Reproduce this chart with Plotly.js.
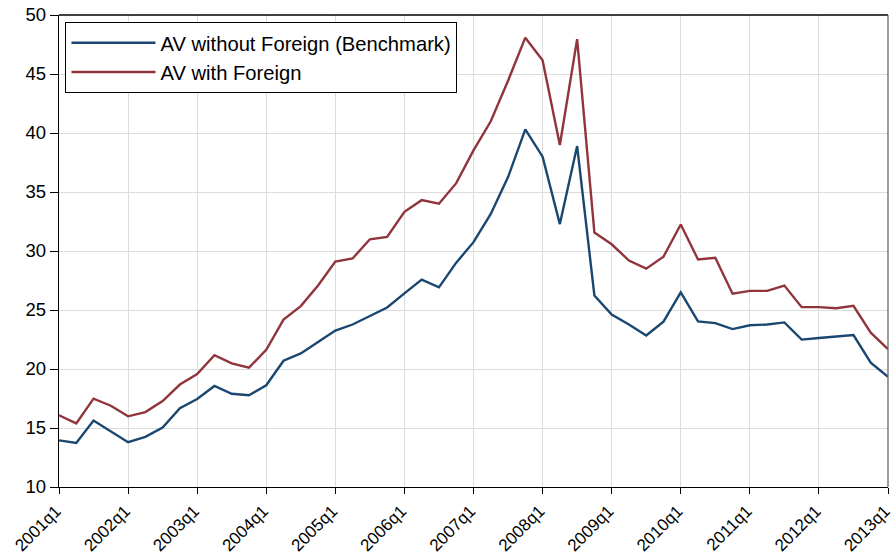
<!DOCTYPE html>
<html>
<head>
<meta charset="utf-8">
<script src="https://cdn.plot.ly/plotly-3.0.1.min.js"></script>
<style>html,body{margin:0;padding:0;background:#fff;}#chart{width:893px;height:554px;}</style>
</head>
<body>
<div id="chart"></div>
<script>
const quarters = [
  "2001q1","2001q2","2001q3","2001q4","2002q1","2002q2","2002q3","2002q4",
  "2003q1","2003q2","2003q3","2003q4","2004q1","2004q2","2004q3","2004q4",
  "2005q1","2005q2","2005q3","2005q4","2006q1","2006q2","2006q3","2006q4",
  "2007q1","2007q2","2007q3","2007q4","2008q1","2008q2","2008q3","2008q4",
  "2009q1","2009q2","2009q3","2009q4","2010q1","2010q2","2010q3","2010q4",
  "2011q1","2011q2","2011q3","2011q4","2012q1","2012q2","2012q3","2012q4",
  "2013q1"
];
const avWithoutForeign = [
  13.95, 13.74, 15.63, 14.73, 13.80, 14.25, 15.03, 16.68,
  17.46, 18.56, 17.90, 17.78, 18.62, 20.70, 21.32, 22.28,
  23.26, 23.77, 24.52, 25.21, 26.41, 27.57, 26.92, 29.01,
  30.75, 33.14, 36.26, 40.30, 37.99, 32.28, 38.89, 26.23,
  24.62, 23.77, 22.84, 24.01, 26.50, 24.04, 23.89, 23.38,
  23.71, 23.77, 23.95, 22.49, 22.63, 22.75, 22.87, 20.54,
  19.34
];
const avWithForeign = [
  16.08, 15.39, 17.49, 16.89, 15.99, 16.35, 17.28, 18.68,
  19.58, 21.17, 20.48, 20.12, 21.62, 24.19, 25.33, 27.07,
  29.10, 29.37, 30.99, 31.20, 33.32, 34.31, 34.01, 35.75,
  38.53, 40.99, 44.43, 48.08, 46.17, 38.98, 47.96, 31.56,
  30.57, 29.19, 28.50, 29.52, 32.25, 29.28, 29.43, 26.38,
  26.62, 26.62, 27.07, 25.24, 25.24, 25.15, 25.36, 23.08,
  21.68
];
const xTickLabels = ["2001q1","2002q1","2003q1","2004q1","2005q1","2006q1","2007q1",
  "2008q1","2009q1","2010q1","2011q1","2012q1","2013q1"];
const yTicks = [10, 15, 20, 25, 30, 35, 40, 45, 50];
const seriesNames = ["AV without Foreign (Benchmark)", "AV with Foreign"];

const font = "Liberation Sans, Arial, Helvetica, sans-serif";

const traces = [
  {x: quarters, y: avWithoutForeign, name: seriesNames[0], type: "scatter", mode: "lines",
   line: {color: "#1a476f", width: 2.4}},
  {x: quarters, y: avWithForeign, name: seriesNames[1], type: "scatter", mode: "lines",
   line: {color: "#90353b", width: 2.4}}
];

const layout = {
  width: 893, height: 554,
  margin: {l: 59, r: 5, t: 15, b: 67, pad: 0},
  paper_bgcolor: "#ffffff", plot_bgcolor: "#ffffff",
  font: {family: font, color: "#000", size: 18},
  showlegend: true,
  legend: {
    x: 0.0078, y: 0.985, xanchor: "left", yanchor: "top",
    bordercolor: "#000", borderwidth: 1, bgcolor: "#fff",
    font: {family: font, size: 20.2, color: "#000"},
    itemwidth: 84, tracegroupgap: 0
  },
  xaxis: {
    type: "category",
    range: [0, quarters.length - 1],
    tickmode: "array", tickvals: xTickLabels, ticktext: xTickLabels,
    tickangle: -45, ticklabelshift: -3,
    ticks: "outside", ticklen: 6, tickcolor: "#000", tickwidth: 1,
    showgrid: true, gridcolor: "#dcdcdc", gridwidth: 1,
    showline: true, linecolor: "#000", linewidth: 1.3,
    zeroline: false,
    tickfont: {family: font, size: 17, color: "#000"}
  },
  yaxis: {
    range: [10, 50],
    tickmode: "array", tickvals: yTicks,
    ticks: "outside", ticklen: 8, tickcolor: "#000", tickwidth: 1,
    showgrid: true, gridcolor: "#dcdcdc", gridwidth: 1,
    showline: true, linecolor: "#000", linewidth: 1.3,
    zeroline: false,
    tickfont: {family: font, size: 18.5, color: "#000"}
  },
  shapes: [
    {type: "line", xref: "paper", yref: "paper", x0: 0, x1: 1, y0: 1, y1: 1,
     line: {color: "#000", width: 1.3}},
    {type: "line", xref: "paper", yref: "paper", x0: 1, x1: 1, y0: 0, y1: 1,
     line: {color: "#666", width: 1.3}}
  ]
};

Plotly.newPlot("chart", traces, layout, {staticPlot: true, displayModeBar: false});
</script>
</body>
</html>
